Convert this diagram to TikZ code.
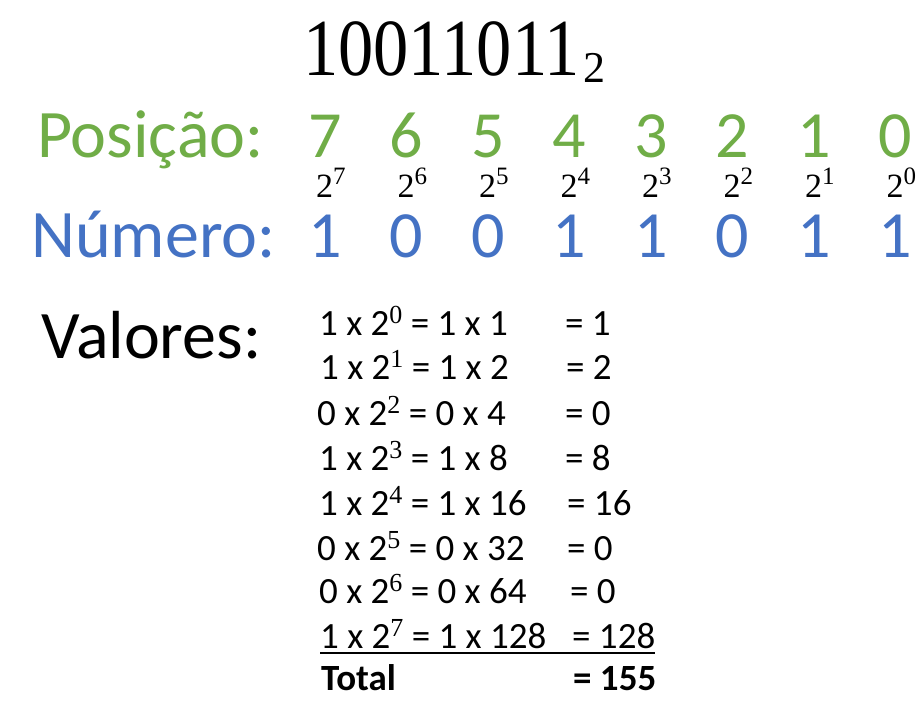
\documentclass[tikz,border=0pt]{standalone}
\usepackage{fontspec}
\setmainfont{Carlito}
\newfontfamily\serifnum{Liberation Serif}
\usepackage{tikz}
\usetikzlibrary{positioning}
\definecolor{verde}{HTML}{70AD47}
\definecolor{azul}{HTML}{4472C4}
\newcommand{\potencia}[1]{{\fontsize{34}{34}\serifnum 2\raisebox{13pt}{\fontsize{25}{25}\selectfont #1}}}
\newcommand{\expo}[1]{\raisebox{12pt}{\fontsize{26}{26}\serifnum #1}}

\begin{document}
\begin{tikzpicture}[x=1pt, y=-1pt, node distance=81.5pt, inner sep=0pt]
\useasboundingbox (0,0) rectangle (918,720);

\tikzstyle{rotulo} = [anchor=base west, font=\fontsize{68}{68}\selectfont]
\tikzstyle{posdig} = [text=verde, text height=42pt, text depth=0pt, font=\fontsize{66}{66}\selectfont]
\tikzstyle{numdig} = [posdig, text=azul]
\tikzstyle{pot} = [text height=20pt, text depth=0pt]
\tikzstyle{linha} = [anchor=base west, font=\fontsize{37}{37}\selectfont]

\node (tit) [anchor=base west] at (303,75) {\scalebox{0.87}[1]{\fontsize{81}{81}\serifnum 10011011}\hspace{4pt}\raisebox{-7pt}{\fontsize{44}{44}\serifnum 2}};

\node (lpos) [rotulo, text=verde] at (37,157) {Posição:};
\node (lnum) [rotulo, text=azul] at (31,257) {Número:};
\node (lval) [rotulo] at (41,358) {Valores:};

\node (p7) [posdig, anchor=base] at (325,157) {7};
\node (p6) [posdig, right of=p7] {6};
\node (p5) [posdig, right of=p6] {5};
\node (p4) [posdig, right of=p5] {4};
\node (p3) [posdig, right of=p4] {3};
\node (p2) [posdig, right of=p3] {2};
\node (p1) [posdig, right of=p2] {1};
\node (p0) [posdig, right of=p1] {0};

\node (e7) [pot, anchor=base west] at (316,197) {\potencia{7}};
\node (e6) [pot, right of=e7] {\potencia{6}};
\node (e5) [pot, right of=e6] {\potencia{5}};
\node (e4) [pot, right of=e5] {\potencia{4}};
\node (e3) [pot, right of=e4] {\potencia{3}};
\node (e2) [pot, right of=e3] {\potencia{2}};
\node (e1) [pot, right of=e2] {\potencia{1}};
\node (e0) [pot, right of=e1] {\potencia{0}};

\node (n7) [numdig, anchor=base] at (325,257) {1};
\node (n6) [numdig, right of=n7] {0};
\node (n5) [numdig, right of=n6] {0};
\node (n4) [numdig, right of=n5] {1};
\node (n3) [numdig, right of=n4] {1};
\node (n2) [numdig, right of=n3] {0};
\node (n1) [numdig, right of=n2] {1};
\node (n0) [numdig, right of=n1] {1};

\node (va1) [linha] at (319,335) {1 x 2\expo{0} = 1 x 1};
\node (vb1) [linha] at (565,335) {= 1};
\node (va2) [linha] at (320,379) {1 x 2\expo{1} = 1 x 2};
\node (vb2) [linha] at (566,379) {= 2};
\node (va3) [linha] at (317,425) {0 x 2\expo{2} = 0 x 4};
\node (vb3) [linha] at (565,425) {= 0};
\node (va4) [linha] at (319,470) {1 x 2\expo{3} = 1 x 8};
\node (vb4) [linha] at (565,470) {= 8};
\node (va5) [linha] at (319,515) {1 x 2\expo{4} = 1 x 16};
\node (vb5) [linha] at (567,515) {= 16};
\node (va6) [linha] at (317,560) {0 x 2\expo{5} = 0 x 32};
\node (vb6) [linha] at (567,560) {= 0};
\node (va7) [linha] at (319,603) {0 x 2\expo{6} = 0 x 64};
\node (vb7) [linha] at (570,603) {= 0};
\node (va8) [linha] at (320,648) {1 x 2\expo{7} = 1 x 128};
\node (vb8) [linha] at (572,648) {= 128};
\node (tota) [linha] at (321,690) {\bfseries Total};
\node (totb) [linha] at (573,690) {\bfseries = 155};

\draw [line width=2.2pt] ([yshift=-5pt]va8.base west) -- ([yshift=-5pt]vb8.base east);
\end{tikzpicture}
\end{document}
